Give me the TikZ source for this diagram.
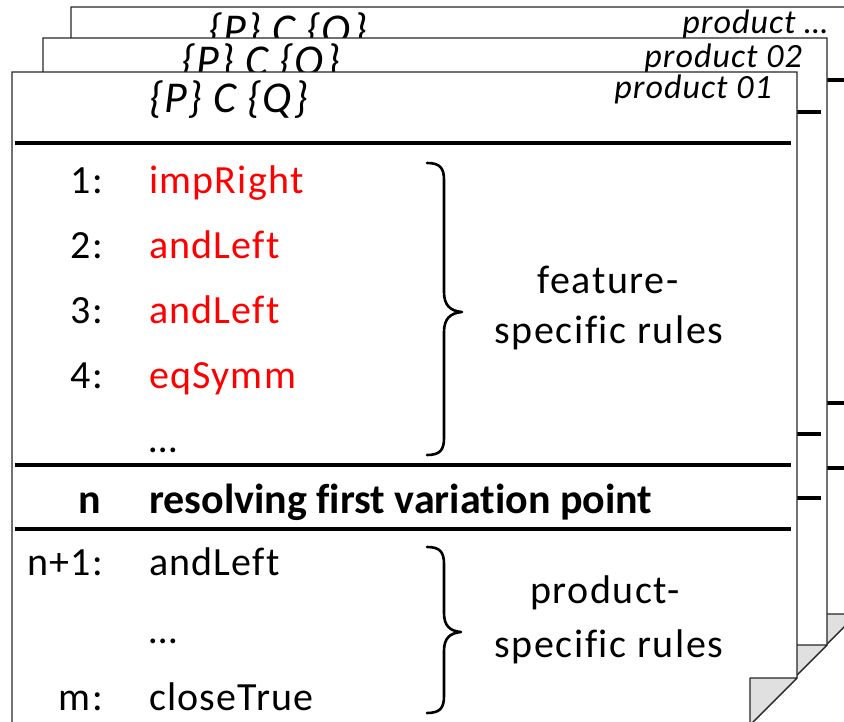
\documentclass[tikz,border=0pt]{standalone}
\usepackage{fontspec}
\setmainfont{Carlito}[Ligatures=NoCommon]
\newfontfamily\spacedfont{Carlito}[LetterSpace=3,Ligatures=NoCommon]
\newfontfamily\widefont{Carlito}[LetterSpace=4,Ligatures=NoCommon]
\begin{document}
\begin{tikzpicture}[x=1pt,y=-1pt,
  sheet/.style={draw=black!85,line width=1.2pt,fill=white,line join=miter},
  flap/.style={draw=black!85,line width=1.2pt,fill=black!12,line join=round},
  rule/.style={line width=4pt},
  bracepath/.style={line width=2.6pt,line cap=round,line join=round},
  body/.style={inner sep=0pt,font=\spacedfont\fontsize{40}{48}\selectfont},
  feat/.style={body,text=red},
  boldrow/.style={inner sep=0pt,font=\bfseries\fontsize{42}{48}\selectfont},
  formula/.style={inner sep=0pt,font=\spacedfont\itshape\fontsize{44}{52}\selectfont},
  prodname/.style={inner sep=0pt,font=\spacedfont\itshape\fontsize{34}{40}\selectfont},
  side/.style={inner sep=0pt,align=center,font=\widefont\fontsize{40}{50}\selectfont}]
\useasboundingbox (0,0) rectangle (844,721);
\clip (0,0) rectangle (844,721);

% ---- back sheet: product ...
\draw[sheet] (71,7) -- (857,7) -- (857,614) -- (810,661) -- (71,661) -- cycle;
\node[formula,anchor=base west] (p3f) at (208,44) {\{P\} C \{Q\}};
\node[prodname,anchor=base east] (p3n) at (828,33) {product …};
\draw[rule] (74,80) -- (851,80);
\draw[rule] (74,403) -- (851,403);
\draw[rule] (74,468) -- (851,468);
\draw[flap] (857,614) -- (810,661) -- (810,614) -- cycle;

% ---- middle sheet: product 02
\draw[sheet] (43,38) -- (827,38) -- (827,645) -- (780,692) -- (43,692) -- cycle;
\node[formula,anchor=base west] (p2f) at (181,75) {\{P\} C \{Q\}};
\node[prodname,anchor=base east] (p2n) at (802,67) {product 02};
\draw[rule] (46,112) -- (821,112);
\draw[rule] (46,434) -- (821,434);
\draw[rule] (46,498) -- (821,498);
\draw[flap] (827,645) -- (780,692) -- (780,645) -- cycle;

% ---- front sheet: product 01
\draw[sheet] (12,72) -- (797,72) -- (797,678) -- (750,725) -- (12,725) -- cycle;
\node[formula,anchor=base west] (p1f) at (149,112) {\{P\} C \{Q\}};
\node[prodname,anchor=base east] (p1n) at (772,98) {product 01};
\draw[rule] (15,143) -- (791,143);
\draw[rule] (15,465) -- (791,465);
\draw[rule] (15,529) -- (791,529);
\draw[flap] (797,678) -- (750,725) -- (750,678) -- cycle;

% feature-specific rule rows
\node[body,anchor=base east] (n1) at (103,193) {1:};
\node[feat,anchor=base west] (r1) at (149,193) {impRight};
\node[body,anchor=base east] (n2) at (103,258) {2:};
\node[feat,anchor=base west] (r2) at (149,258) {andLeft};
\node[body,anchor=base east] (n3) at (103,323) {3:};
\node[feat,anchor=base west] (r3) at (149,323) {andLeft};
\node[body,anchor=base east] (n4) at (103,388) {4:};
\node[feat,anchor=base west] (r4) at (149,388) {eqSymm};
\node[body,anchor=base west] (r5) at (149,452) {…};

\draw[bracepath] (427,163) .. controls (440,163) and (444,168) .. (444,180)
  -- (444,292) .. controls (444,305) and (450,311) .. (462,312)
  .. controls (450,313) and (444,319) .. (444,332)
  -- (444,438) .. controls (444,450) and (440,455) .. (427,455);
\node[side,anchor=base] (fs1) at (608,293) {feature-};
\node[side,anchor=base] (fs2) at (609,343) {specific rules};

% variation point
\node[boldrow,anchor=base east] (nv) at (101,513) {n};
\node[boldrow,anchor=base west] (rv) at (149,513) {resolving first variation point};

% product-specific rule rows
\node[body,anchor=base east] (m1) at (103,575) {n+1:};
\node[body,anchor=base west] (s1) at (149,575) {andLeft};
\node[body,anchor=base west] (s2) at (149,643) {…};
\node[body,anchor=base east] (m3) at (103,710) {m:};
\node[body,anchor=base west] (s3) at (149,710) {closeTrue};

\draw[bracepath] (427,547) .. controls (440,547) and (444,552) .. (444,564)
  -- (444,613) .. controls (444,626) and (450,631) .. (461,632)
  .. controls (450,633) and (444,638) .. (444,651)
  -- (444,696) .. controls (444,708) and (440,713) .. (427,713);
\node[side,anchor=base] (ps1) at (605,603) {product-};
\node[side,anchor=base] (ps2) at (609,657) {specific rules};
\end{tikzpicture}
\end{document}
